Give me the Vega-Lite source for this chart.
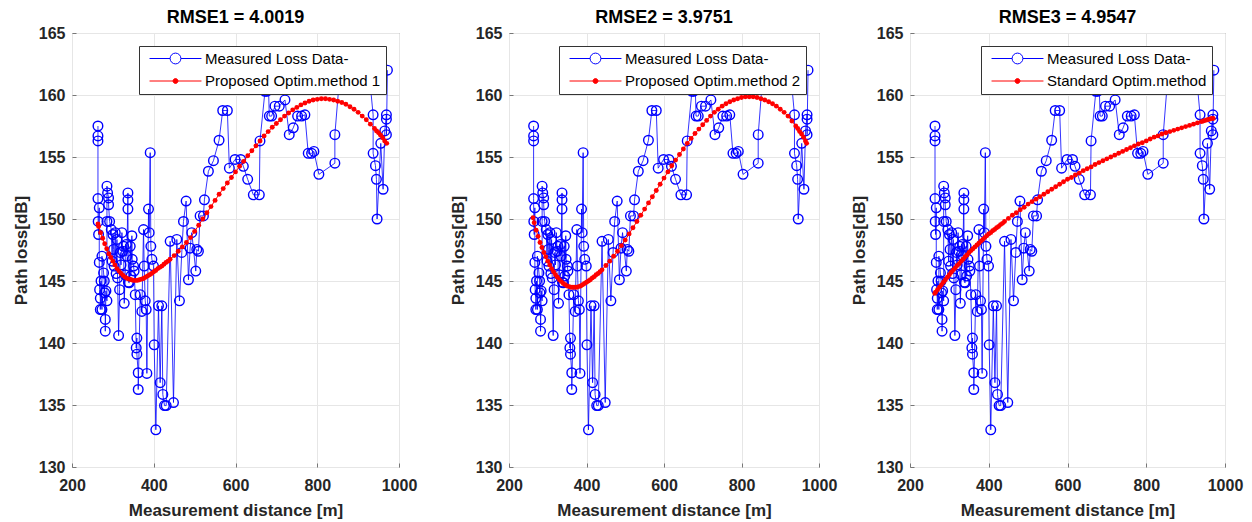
{
"$schema": "https://vega.github.io/schema/vega-lite/v6.json",
"padding": {"left": 11, "top": 8, "right": 0, "bottom": 0},
"background": "white",
"config": {
 "view": {"stroke": "#777", "strokeWidth": 1},
 "font": "Liberation Sans",
 "title": {"font": "Liberation Sans", "fontSize": 18, "fontWeight": "bold", "color": "#000", "offset": -2, "anchor": "middle"},
 "axis": {"labelFont": "Liberation Sans", "labelFontSize": 16, "labelFontWeight": "bold", "labelColor": "#262626", "titleFont": "Liberation Sans", "titleFontSize": 17, "titleFontWeight": "bold", "titleColor": "#262626", "gridColor": "#e6e6e6", "gridWidth": 1, "domain": false, "ticks": true, "tickSize": -4, "tickColor": "#777", "labelFlush": false, "labelOverlap": false, "format": "d"},
 "axisX": {"labelPadding": 14, "titlePadding": 9},
 "axisY": {"labelPadding": 11, "titlePadding": 8},
 "legend": {"title": null, "orient": "top-right", "offset": 13, "padding": 5, "strokeColor": "#333", "fillColor": "white", "labelFont": "Liberation Sans", "labelFontSize": 15, "labelColor": "#000", "labelLimit": 0, "symbolSize": 117, "symbolOffset": 24, "labelOffset": 22, "rowPadding": 6.5, "symbolStrokeWidth": 1}
},
"datasets": {
 "measured": [
  {"i":1,"x":263.5,"y":157.5},{"i":2,"x":263.5,"y":156.7},{"i":3,"x":263.5,"y":156.3},{"i":4,"x":263.5,"y":151.65},{"i":5,"x":264,"y":149.8},{"i":6,"x":265,"y":148.75},{"i":7,"x":266.7,"y":150.9},{"i":8,"x":266.7,"y":146.5},{"i":9,"x":267.5,"y":144.3},{"i":10,"x":269.2,"y":143.6},
  {"i":11,"x":269.2,"y":142.7},{"i":12,"x":271,"y":145.0},{"i":13,"x":273.3,"y":142.7},{"i":14,"x":273.3,"y":147.0},{"i":15,"x":277.3,"y":145.65},{"i":16,"x":279,"y":145.0},{"i":17,"x":280,"y":144.05},{"i":18,"x":281.4,"y":141.9},{"i":19,"x":281.4,"y":140.95},{"i":20,"x":283,"y":144.2},
  {"i":21,"x":285.5,"y":143.4},{"i":22,"x":285.5,"y":149.8},{"i":23,"x":285.5,"y":152.65},{"i":24,"x":287.1,"y":152.1},{"i":25,"x":289.5,"y":151.7},{"i":26,"x":289.5,"y":151.15},{"i":27,"x":292,"y":149.8},{"i":28,"x":296.1,"y":149.15},{"i":29,"x":298,"y":146.6},{"i":30,"x":300.1,"y":148.75},
  {"i":31,"x":301.7,"y":147.55},{"i":32,"x":303,"y":146.2},{"i":33,"x":305.8,"y":148.9},{"i":34,"x":308,"y":145.6},{"i":35,"x":309.9,"y":148.35},{"i":36,"x":311.5,"y":145.25},{"i":37,"x":314,"y":140.6},{"i":38,"x":316.4,"y":144.3},{"i":39,"x":318,"y":147.3},{"i":40,"x":320,"y":146.3},
  {"i":41,"x":322.1,"y":148.9},{"i":42,"x":324,"y":147.4},{"i":43,"x":326.2,"y":147.8},{"i":44,"x":327.8,"y":143.2},{"i":45,"x":330,"y":145.5},{"i":46,"x":332.7,"y":147.95},{"i":47,"x":334.3,"y":147.0},{"i":48,"x":336.8,"y":152.1},{"i":49,"x":336.8,"y":151.55},{"i":50,"x":336.8,"y":150.8},
  {"i":51,"x":338,"y":144.9},{"i":52,"x":340,"y":144.85},{"i":53,"x":342.5,"y":147.8},{"i":54,"x":344,"y":145.4},{"i":55,"x":346.5,"y":148.65},{"i":56,"x":347.3,"y":146.75},{"i":57,"x":350.6,"y":146.2},{"i":58,"x":352,"y":145.8},{"i":59,"x":354.7,"y":143.9},{"i":60,"x":357.1,"y":139.6},
  {"i":61,"x":358.7,"y":140.4},{"i":62,"x":358.7,"y":139.1},{"i":63,"x":362,"y":137.6},{"i":64,"x":362,"y":136.25},{"i":65,"x":366.9,"y":143.9},{"i":66,"x":370.9,"y":142.55},{"i":67,"x":375,"y":149.15},{"i":68,"x":376.6,"y":146.2},{"i":69,"x":379.1,"y":143.4},{"i":70,"x":381.5,"y":142.7},
  {"i":71,"x":383.2,"y":137.55},{"i":72,"x":387.2,"y":150.8},{"i":73,"x":388.8,"y":148.9},{"i":74,"x":391.3,"y":155.35},{"i":75,"x":392.9,"y":147.8},{"i":76,"x":395.4,"y":146.75},{"i":77,"x":399.4,"y":146.2},{"i":78,"x":401.1,"y":139.85},{"i":79,"x":405.1,"y":133.0},{"i":80,"x":411.6,"y":143.0},
  {"i":81,"x":415.7,"y":136.8},{"i":82,"x":419.8,"y":143.0},{"i":83,"x":422.2,"y":135.85},{"i":84,"x":426.3,"y":134.95},{"i":85,"x":430.4,"y":134.95},{"i":86,"x":440.1,"y":148.2},{"i":87,"x":448.3,"y":135.2},{"i":88,"x":456.4,"y":148.35},{"i":89,"x":462.9,"y":143.4},{"i":90,"x":468.6,"y":147.3},
  {"i":91,"x":472.7,"y":149.8},{"i":92,"x":479.2,"y":151.45},{"i":93,"x":484.9,"y":145.1},{"i":94,"x":489,"y":147.65},{"i":95,"x":493,"y":148.9},{"i":96,"x":502.8,"y":145.8},{"i":97,"x":505.3,"y":147.55},{"i":98,"x":509.3,"y":147.4},{"i":99,"x":513.4,"y":150.25},{"i":100,"x":521.5,"y":150.25},
  {"i":101,"x":524,"y":151.55},{"i":102,"x":533.7,"y":153.85},{"i":103,"x":546,"y":154.7},{"i":104,"x":559.8,"y":156.35},{"i":105,"x":568.7,"y":158.75},{"i":106,"x":580.1,"y":158.75},{"i":107,"x":585,"y":154.1},{"i":108,"x":598.9,"y":154.8},{"i":109,"x":612.7,"y":154.8},{"i":110,"x":619.2,"y":154.25},
  {"i":111,"x":629.8,"y":153.2},{"i":112,"x":643.6,"y":151.95},{"i":113,"x":658.3,"y":151.95},{"i":114,"x":659.9,"y":156.3},{"i":115,"x":672.1,"y":160.3},{"i":116,"x":676.2,"y":160.3},{"i":117,"x":679,"y":162.6},{"i":118,"x":682.7,"y":158.3},{"i":119,"x":688.4,"y":158.3},{"i":120,"x":696.5,"y":159.1},
  {"i":121,"x":707.1,"y":159.1},{"i":122,"x":721,"y":159.6},{"i":123,"x":731.5,"y":156.8},{"i":124,"x":741.3,"y":157.35},{"i":125,"x":751.9,"y":158.3},{"i":126,"x":761.7,"y":158.3},{"i":127,"x":769.8,"y":158.4},{"i":128,"x":777.9,"y":155.3},{"i":129,"x":786.1,"y":155.3},{"i":130,"x":791.8,"y":155.45},
  {"i":131,"x":804,"y":153.6},{"i":132,"x":843.1,"y":154.5},{"i":133,"x":843.1,"y":156.8},{"i":134,"x":858,"y":162.8},{"i":135,"x":924.5,"y":162.6},{"i":136,"x":936.7,"y":158.4},{"i":137,"x":936.7,"y":155.3},{"i":138,"x":942.4,"y":154.3},{"i":139,"x":944.8,"y":153.2},{"i":140,"x":946.4,"y":150.0},
  {"i":141,"x":955.4,"y":156.1},{"i":142,"x":961.1,"y":152.4},{"i":143,"x":965.2,"y":157.1},{"i":144,"x":969.2,"y":158.4},{"i":145,"x":969.2,"y":158.05},{"i":146,"x":969.2,"y":156.8},{"i":147,"x":971.7,"y":162.0}
 ],
 "fit1": [
  {"x":263.5,"y":149.6},{"x":265,"y":149.4},{"x":270,"y":148.9},{"x":275,"y":148.45},{"x":280,"y":148.0},{"x":285,"y":147.6},{"x":290,"y":147.2},{"x":295,"y":146.9},{"x":300,"y":146.6},{"x":305,"y":146.3},{"x":310,"y":146.0},{"x":315,"y":145.8},{"x":320,"y":145.6},{"x":325,"y":145.45},{"x":330,"y":145.3},{"x":335,"y":145.2},{"x":340,"y":145.15},{"x":345,"y":145.1},{"x":350,"y":145.05},{"x":355,"y":145.05},{"x":360,"y":145.05},{"x":365,"y":145.1},{"x":370,"y":145.15},{"x":375,"y":145.2},{"x":380,"y":145.3},{"x":385,"y":145.4},{"x":390,"y":145.5},{"x":395,"y":145.6},{"x":400,"y":145.75},{"x":405,"y":145.85},{"x":410,"y":146.0},{"x":415,"y":146.1},{"x":420,"y":146.2},{"x":425,"y":146.35},{"x":430,"y":146.5},{"x":435,"y":146.6},{"x":440,"y":146.75},{"x":450,"y":147.05},{"x":460,"y":147.4},{"x":470,"y":147.75},{"x":480,"y":148.1},{"x":490,"y":148.5},{"x":500,"y":149.0},{"x":510,"y":149.5},{"x":520,"y":150.0},{"x":530,"y":150.5},{"x":540,"y":151.0},{"x":550,"y":151.5},{"x":560,"y":152.0},{"x":570,"y":152.45},{"x":580,"y":152.9},{"x":590,"y":153.35},{"x":600,"y":153.8},{"x":610,"y":154.25},{"x":620,"y":154.65},{"x":630,"y":155.1},{"x":640,"y":155.5},{"x":650,"y":155.9},{"x":660,"y":156.3},{"x":670,"y":156.7},{"x":680,"y":157.05},{"x":690,"y":157.4},{"x":700,"y":157.7},{"x":710,"y":158.0},{"x":720,"y":158.3},{"x":730,"y":158.55},{"x":740,"y":158.8},{"x":750,"y":159.0},{"x":760,"y":159.2},{"x":770,"y":159.35},{"x":780,"y":159.5},{"x":790,"y":159.6},{"x":800,"y":159.65},{"x":810,"y":159.7},{"x":820,"y":159.7},{"x":830,"y":159.65},{"x":840,"y":159.6},{"x":850,"y":159.5},{"x":860,"y":159.4},{"x":870,"y":159.25},{"x":880,"y":159.05},{"x":890,"y":158.85},{"x":900,"y":158.6},{"x":910,"y":158.3},{"x":920,"y":158.0},{"x":930,"y":157.65},{"x":940,"y":157.3},{"x":945,"y":157.1},{"x":950,"y":156.95},{"x":955,"y":156.75},{"x":960,"y":156.55},{"x":965,"y":156.3},{"x":970,"y":156.1}
 ],
 "fit2": [
  {"x":262,"y":150.1},{"x":265,"y":149.7},{"x":270,"y":149.1},{"x":275,"y":148.6},{"x":280,"y":148.1},{"x":285,"y":147.7},{"x":290,"y":147.3},{"x":295,"y":146.95},{"x":300,"y":146.6},{"x":305,"y":146.3},{"x":310,"y":146.0},{"x":315,"y":145.75},{"x":320,"y":145.5},{"x":325,"y":145.3},{"x":330,"y":145.1},{"x":335,"y":144.95},{"x":340,"y":144.8},{"x":345,"y":144.7},{"x":350,"y":144.6},{"x":355,"y":144.55},{"x":360,"y":144.5},{"x":365,"y":144.5},{"x":370,"y":144.5},{"x":375,"y":144.5},{"x":380,"y":144.55},{"x":385,"y":144.6},{"x":390,"y":144.7},{"x":395,"y":144.8},{"x":400,"y":144.9},{"x":405,"y":145.0},{"x":410,"y":145.1},{"x":415,"y":145.25},{"x":420,"y":145.35},{"x":425,"y":145.5},{"x":430,"y":145.6},{"x":435,"y":145.75},{"x":440,"y":145.9},{"x":450,"y":146.25},{"x":460,"y":146.6},{"x":470,"y":147.0},{"x":480,"y":147.4},{"x":490,"y":147.85},{"x":500,"y":148.3},{"x":510,"y":148.8},{"x":520,"y":149.3},{"x":530,"y":149.8},{"x":540,"y":150.3},{"x":550,"y":150.8},{"x":560,"y":151.3},{"x":570,"y":151.8},{"x":580,"y":152.3},{"x":590,"y":152.8},{"x":600,"y":153.3},{"x":610,"y":153.8},{"x":620,"y":154.3},{"x":630,"y":154.75},{"x":640,"y":155.2},{"x":650,"y":155.65},{"x":660,"y":156.1},{"x":670,"y":156.5},{"x":680,"y":156.9},{"x":690,"y":157.25},{"x":700,"y":157.6},{"x":710,"y":157.95},{"x":720,"y":158.3},{"x":730,"y":158.6},{"x":740,"y":158.85},{"x":750,"y":159.1},{"x":760,"y":159.3},{"x":770,"y":159.45},{"x":780,"y":159.6},{"x":790,"y":159.7},{"x":800,"y":159.8},{"x":810,"y":159.85},{"x":820,"y":159.85},{"x":830,"y":159.85},{"x":840,"y":159.8},{"x":850,"y":159.7},{"x":860,"y":159.6},{"x":870,"y":159.45},{"x":880,"y":159.3},{"x":890,"y":159.1},{"x":900,"y":158.85},{"x":910,"y":158.6},{"x":920,"y":158.3},{"x":930,"y":157.9},{"x":940,"y":157.5},{"x":945,"y":157.3},{"x":950,"y":157.05},{"x":955,"y":156.85},{"x":960,"y":156.6},{"x":965,"y":156.3},{"x":968,"y":156.1}
 ],
 "fit3": [
  {"x":263,"y":144.0},{"x":265,"y":144.1},{"x":270,"y":144.3},{"x":275,"y":144.5},{"x":280,"y":144.7},{"x":285,"y":144.9},{"x":290,"y":145.1},{"x":295,"y":145.3},{"x":300,"y":145.5},{"x":305,"y":145.7},{"x":310,"y":145.9},{"x":315,"y":146.05},{"x":320,"y":146.25},{"x":325,"y":146.4},{"x":330,"y":146.6},{"x":335,"y":146.75},{"x":340,"y":146.95},{"x":345,"y":147.1},{"x":350,"y":147.3},{"x":355,"y":147.45},{"x":360,"y":147.6},{"x":365,"y":147.75},{"x":370,"y":147.9},{"x":375,"y":148.05},{"x":380,"y":148.2},{"x":385,"y":148.35},{"x":390,"y":148.5},{"x":395,"y":148.65},{"x":400,"y":148.8},{"x":405,"y":148.9},{"x":410,"y":149.05},{"x":415,"y":149.15},{"x":420,"y":149.3},{"x":425,"y":149.4},{"x":430,"y":149.55},{"x":435,"y":149.65},{"x":440,"y":149.8},{"x":450,"y":150.05},{"x":460,"y":150.3},{"x":470,"y":150.5},{"x":480,"y":150.75},{"x":490,"y":150.95},{"x":500,"y":151.2},{"x":510,"y":151.4},{"x":520,"y":151.6},{"x":530,"y":151.8},{"x":540,"y":152.0},{"x":550,"y":152.2},{"x":560,"y":152.4},{"x":570,"y":152.6},{"x":580,"y":152.8},{"x":590,"y":153.0},{"x":600,"y":153.2},{"x":610,"y":153.35},{"x":620,"y":153.55},{"x":630,"y":153.7},{"x":640,"y":153.9},{"x":650,"y":154.05},{"x":660,"y":154.2},{"x":670,"y":154.4},{"x":680,"y":154.55},{"x":690,"y":154.7},{"x":700,"y":154.85},{"x":710,"y":155.0},{"x":720,"y":155.15},{"x":730,"y":155.3},{"x":740,"y":155.45},{"x":750,"y":155.6},{"x":760,"y":155.75},{"x":770,"y":155.9},{"x":780,"y":156.05},{"x":790,"y":156.15},{"x":800,"y":156.3},{"x":810,"y":156.45},{"x":820,"y":156.6},{"x":830,"y":156.7},{"x":840,"y":156.85},{"x":850,"y":156.95},{"x":860,"y":157.05},{"x":870,"y":157.15},{"x":880,"y":157.25},{"x":890,"y":157.35},{"x":900,"y":157.45},{"x":910,"y":157.55},{"x":920,"y":157.65},{"x":930,"y":157.75},{"x":940,"y":157.85},{"x":945,"y":157.9},{"x":950,"y":157.95},{"x":955,"y":158.0},{"x":960,"y":158.05},{"x":965,"y":158.1},{"x":970,"y":158.1}
 ]
},
"resolve": {"scale": {"color": "independent"}, "legend": {"color": "independent"}},
"spacing": 30,
"hconcat": [
 {
  "width": 327, "height": 434,
  "title": "RMSE1 = 4.0019",
  "layer": [
   {"data": {"name": "measured"}, "mark": {"type": "line", "strokeWidth": 0.8, "clip": true},
    "encoding": {
     "x": {"field": "x", "type": "quantitative", "scale": {"domain": [200, 1000], "nice": false}, "axis": {"values": [200, 400, 600, 800, 1000], "title": "Measurement distance [m]"}},
     "y": {"field": "y", "type": "quantitative", "scale": {"domain": [130, 165], "nice": false, "zero": false}, "axis": {"values": [130, 135, 140, 145, 150, 155, 160, 165], "title": "Path loss[dB]"}},
     "order": {"field": "i"},
     "color": {"datum": "Measured Loss Data-", "scale": {"domain": ["Measured Loss Data-", "\u00a0Proposed Optim.method 1"], "range": ["#0000ff", "#ff0000"]},
      "legend": {"encode": {"symbols": {"update": {
       "shape": {"signal": "datum.value === 'Measured Loss Data-' ? 'M-4.8,0L-1,0M1,0L4.8,0M1,0A1,1,0,1,1,-1,0A1,1,0,1,1,1,0' : 'M-4.8,0L4.8,0M0.45,0A0.45,0.45,0,1,1,-0.45,0A0.45,0.45,0,1,1,0.45,0'"},
       "fill": {"signal": "datum.value === 'Measured Loss Data-' ? 'transparent' : '#ff0000'"},
       "fillOpacity": {"signal": "datum.value === 'Measured Loss Data-' ? 0 : 1"},
       "stroke": {"signal": "datum.value === 'Measured Loss Data-' ? '#0000ff' : '#ff0000'"},
       "strokeWidth": {"value": 1}, "opacity": {"value": 1}}}}}}
    }},
   {"data": {"name": "measured"}, "mark": {"type": "point", "filled": false, "size": 92, "strokeWidth": 1.4, "opacity": 1, "clip": true},
    "encoding": {"x": {"field": "x", "type": "quantitative"}, "y": {"field": "y", "type": "quantitative"}, "color": {"datum": "Measured Loss Data-"}}},
   {"data": {"name": "fit1"}, "mark": {"type": "line", "strokeWidth": 1, "clip": true},
    "encoding": {"x": {"field": "x", "type": "quantitative"}, "y": {"field": "y", "type": "quantitative"}, "color": {"datum": "\u00a0Proposed Optim.method 1"}}},
   {"data": {"name": "fit1"}, "mark": {"type": "circle", "size": 24, "opacity": 1, "clip": true},
    "encoding": {"x": {"field": "x", "type": "quantitative"}, "y": {"field": "y", "type": "quantitative"}, "color": {"datum": "\u00a0Proposed Optim.method 1"}}}
  ]
 },
 {
  "spacing": 11,
  "resolve": {"scale": {"color": "independent"}, "legend": {"color": "independent"}},
  "hconcat": [
   {
    "width": 310, "height": 434,
    "title": "RMSE2 = 3.9751",
    "layer": [
     {"data": {"name": "measured"}, "mark": {"type": "line", "strokeWidth": 0.8, "clip": true},
      "encoding": {
       "x": {"field": "x", "type": "quantitative", "scale": {"domain": [200, 1000], "nice": false}, "axis": {"values": [200, 400, 600, 800, 1000], "title": "Measurement distance [m]"}},
       "y": {"field": "y", "type": "quantitative", "scale": {"domain": [130, 165], "nice": false, "zero": false}, "axis": {"values": [130, 135, 140, 145, 150, 155, 160, 165], "title": "Path loss[dB]"}},
       "order": {"field": "i"},
       "color": {"datum": "Measured Loss Data-", "scale": {"domain": ["Measured Loss Data-", "\u00a0Proposed Optim.method 2"], "range": ["#0000ff", "#ff0000"]},
        "legend": {"encode": {"symbols": {"update": {
         "shape": {"signal": "datum.value === 'Measured Loss Data-' ? 'M-4.8,0L-1,0M1,0L4.8,0M1,0A1,1,0,1,1,-1,0A1,1,0,1,1,1,0' : 'M-4.8,0L4.8,0M0.45,0A0.45,0.45,0,1,1,-0.45,0A0.45,0.45,0,1,1,0.45,0'"},
         "fill": {"signal": "datum.value === 'Measured Loss Data-' ? 'transparent' : '#ff0000'"},
         "fillOpacity": {"signal": "datum.value === 'Measured Loss Data-' ? 0 : 1"},
         "stroke": {"signal": "datum.value === 'Measured Loss Data-' ? '#0000ff' : '#ff0000'"},
         "strokeWidth": {"value": 1}, "opacity": {"value": 1}}}}}}
      }},
     {"data": {"name": "measured"}, "mark": {"type": "point", "filled": false, "size": 92, "strokeWidth": 1.4, "opacity": 1, "clip": true},
      "encoding": {"x": {"field": "x", "type": "quantitative"}, "y": {"field": "y", "type": "quantitative"}, "color": {"datum": "Measured Loss Data-"}}},
     {"data": {"name": "fit2"}, "mark": {"type": "line", "strokeWidth": 1, "clip": true},
      "encoding": {"x": {"field": "x", "type": "quantitative"}, "y": {"field": "y", "type": "quantitative"}, "color": {"datum": "\u00a0Proposed Optim.method 2"}}},
     {"data": {"name": "fit2"}, "mark": {"type": "circle", "size": 24, "opacity": 1, "clip": true},
      "encoding": {"x": {"field": "x", "type": "quantitative"}, "y": {"field": "y", "type": "quantitative"}, "color": {"datum": "\u00a0Proposed Optim.method 2"}}}
    ]
   },
   {
    "width": 315, "height": 434,
    "title": "RMSE3 = 4.9547",
    "layer": [
     {"data": {"name": "measured"}, "mark": {"type": "line", "strokeWidth": 0.8, "clip": true},
      "encoding": {
       "x": {"field": "x", "type": "quantitative", "scale": {"domain": [200, 1000], "nice": false}, "axis": {"values": [200, 400, 600, 800, 1000], "title": "Measurement distance [m]"}},
       "y": {"field": "y", "type": "quantitative", "scale": {"domain": [130, 165], "nice": false, "zero": false}, "axis": {"values": [130, 135, 140, 145, 150, 155, 160, 165], "title": "Path loss[dB]"}},
       "order": {"field": "i"},
       "color": {"datum": "Measured Loss Data-", "scale": {"domain": ["Measured Loss Data-", "\u00a0Standard Optim.method"], "range": ["#0000ff", "#ff0000"]},
        "legend": {"encode": {"symbols": {"update": {
         "shape": {"signal": "datum.value === 'Measured Loss Data-' ? 'M-4.8,0L-1,0M1,0L4.8,0M1,0A1,1,0,1,1,-1,0A1,1,0,1,1,1,0' : 'M-4.8,0L4.8,0M0.45,0A0.45,0.45,0,1,1,-0.45,0A0.45,0.45,0,1,1,0.45,0'"},
         "fill": {"signal": "datum.value === 'Measured Loss Data-' ? 'transparent' : '#ff0000'"},
         "fillOpacity": {"signal": "datum.value === 'Measured Loss Data-' ? 0 : 1"},
         "stroke": {"signal": "datum.value === 'Measured Loss Data-' ? '#0000ff' : '#ff0000'"},
         "strokeWidth": {"value": 1}, "opacity": {"value": 1}}}}}}
      }},
     {"data": {"name": "measured"}, "mark": {"type": "point", "filled": false, "size": 92, "strokeWidth": 1.4, "opacity": 1, "clip": true},
      "encoding": {"x": {"field": "x", "type": "quantitative"}, "y": {"field": "y", "type": "quantitative"}, "color": {"datum": "Measured Loss Data-"}}},
     {"data": {"name": "fit3"}, "mark": {"type": "line", "strokeWidth": 1, "clip": true},
      "encoding": {"x": {"field": "x", "type": "quantitative"}, "y": {"field": "y", "type": "quantitative"}, "color": {"datum": "\u00a0Standard Optim.method"}}},
     {"data": {"name": "fit3"}, "mark": {"type": "circle", "size": 24, "opacity": 1, "clip": true},
      "encoding": {"x": {"field": "x", "type": "quantitative"}, "y": {"field": "y", "type": "quantitative"}, "color": {"datum": "\u00a0Standard Optim.method"}}}
    ]
   }
  ]
 }
]
}
